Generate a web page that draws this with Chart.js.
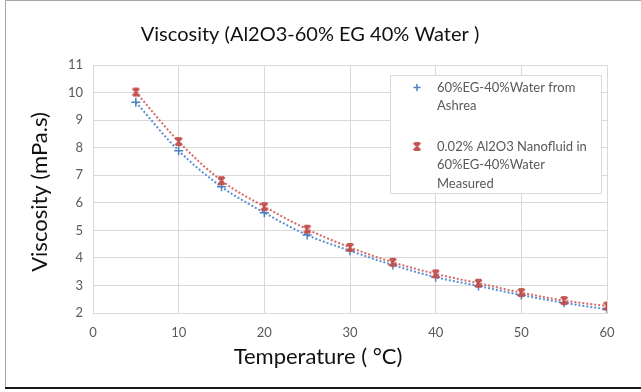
<!DOCTYPE html>
<html>
<head>
<meta charset="utf-8">
<script src="https://cdn.jsdelivr.net/npm/chart.js@4.4.1/dist/chart.umd.min.js"></script>
<style>
html,body{margin:0;padding:0;background:#fff;}
#wrap{width:641px;height:392px;position:relative;}
</style>
</head>
<body>
<div id="wrap"><canvas id="c" width="641" height="392"></canvas></div>
<script>
// ---- data ----
const chartTitle = 'Viscosity (Al2O3-60% EG 40% Water )';
const xTitle = 'Temperature ( °C)';
const yTitle = 'Viscosity (mPa.s)';
const temperatures = [5, 10, 15, 20, 25, 30, 35, 40, 45, 50, 55, 60];
const ashraeViscosity = [9.65, 7.89, 6.58, 5.64, 4.83, 4.26, 3.74, 3.30, 2.98, 2.65, 2.37, 2.13];
const measuredViscosity = [10.02, 8.22, 6.80, 5.86, 5.04, 4.38, 3.84, 3.42, 3.08, 2.74, 2.45, 2.25];
const legendAshrae = ['60%EG-40%Water from', 'Ashrea'];
const legendMeasured = ['0.02% Al2O3 Nanofluid in', '60%EG-40%Water', 'Measured'];
const xMin = 0, xMax = 60, xStep = 10;
const yMin = 2, yMax = 11, yStep = 1;

const BLUE = '#4F81BD', RED = '#C0504D';
const FONT = 'Lato, "Liberation Sans", sans-serif';

function makeStar(color) {
  const c = document.createElement('canvas');
  c.width = 11; c.height = 11;
  const g = c.getContext('2d');
  g.strokeStyle = color; g.lineWidth = 1.7;
  g.beginPath();
  g.moveTo(2, 2); g.lineTo(9, 9);
  g.moveTo(9, 2); g.lineTo(2, 9);
  g.moveTo(5.5, 1); g.lineTo(5.5, 10);
  g.moveTo(3, 1.8); g.lineTo(8, 1.8);
  g.moveTo(3, 9.2); g.lineTo(8, 9.2);
  g.stroke();
  return c;
}
const starImg = makeStar(RED);

function pts(ys) { return temperatures.map((t, i) => ({x: t, y: ys[i]})); }

const framePlugin = {
  id: 'frame',
  beforeDraw(chart) {
    const ctx = chart.ctx;
    ctx.save();
    ctx.fillStyle = '#fff';
    ctx.fillRect(0, 0, chart.width, chart.height);
    ctx.restore();
  },
  afterDraw(chart) {
    const ctx = chart.ctx;
    const a = chart.chartArea;
    ctx.save();
    ctx.strokeStyle = '#A6A6A6';
    ctx.lineWidth = 1;
    ctx.beginPath();
    ctx.moveTo(5.5, 0); ctx.lineTo(5.5, 388);
    ctx.moveTo(5, 0.5); ctx.lineTo(641, 0.5);
    ctx.stroke();
    ctx.strokeStyle = '#1a1a1a';
    ctx.lineWidth = 2;
    ctx.beginPath();
    ctx.moveTo(5, 388); ctx.lineTo(641, 388);
    ctx.stroke();

    // axis titles
    ctx.fillStyle = '#111';
    ctx.font = '22px ' + FONT;
    ctx.textAlign = 'center';
    ctx.textBaseline = 'middle';
    ctx.fillText(xTitle, a.left + 225, a.bottom + 44);
    ctx.save();
    ctx.translate(40, (a.top + a.bottom) / 2 + 3);
    ctx.rotate(-Math.PI / 2);
    ctx.fillText(yTitle, 0, 0);
    ctx.restore();

    // legend
    const bx = a.right - 216.5, by = a.top + 10.5, bw = 211, bh = 118;
    ctx.fillStyle = '#fff';
    ctx.fillRect(bx, by, bw, bh);
    ctx.strokeStyle = '#D9D9D9';
    ctx.lineWidth = 1;
    ctx.strokeRect(bx, by, bw, bh);
    ctx.font = '13px ' + FONT;
    ctx.fillStyle = '#595959';
    ctx.textBaseline = 'middle';
    ctx.textAlign = 'left';
    const tx = bx + 46.5, mx = bx + 26.5;
    let y = by + 12;
    ctx.strokeStyle = BLUE; ctx.lineWidth = 1.5;
    ctx.beginPath();
    ctx.moveTo(mx - 3.5, y); ctx.lineTo(mx + 3.5, y);
    ctx.moveTo(mx, y - 3.5); ctx.lineTo(mx, y + 3.5);
    ctx.stroke();
    legendAshrae.forEach((s, i) => ctx.fillText(s, tx, y + i * 18.5));
    y = by + 71;
    ctx.drawImage(starImg, mx - 5.5, y - 5.5);
    legendMeasured.forEach((s, i) => ctx.fillText(s, tx, y + i * 18.5));
    ctx.restore();
  }
};

new Chart(document.getElementById('c'), {
  type: 'scatter',
  data: {
    datasets: [
      {
        label: legendAshrae.join(' '),
        data: pts(ashraeViscosity),
        showLine: true,
        borderColor: '#5B8FD3',
        borderWidth: 2,
        borderDash: [2, 2],
        cubicInterpolationMode: 'monotone',
        pointStyle: 'cross',
        pointRadius: 4.5,
        pointBorderWidth: 1.5,
        pointBorderColor: BLUE,
        pointBackgroundColor: BLUE,
        order: 2
      },
      {
        label: legendMeasured.join(' '),
        data: pts(measuredViscosity),
        showLine: true,
        borderColor: '#D46A67',
        borderWidth: 2,
        borderDash: [2, 2],
        cubicInterpolationMode: 'monotone',
        pointStyle: starImg,
        pointRadius: 5,
        order: 1
      }
    ]
  },
  options: {
    responsive: false,
    animation: false,
    layout: {padding: {left: 13, right: 34, top: 0, bottom: 0}},
    plugins: {
      legend: {display: false},
      tooltip: {enabled: false},
      title: {
        display: true,
        text: chartTitle,
        color: '#111',
        font: {family: FONT, size: 20, weight: 'normal', lineHeight: 1.2},
        padding: {top: 23, bottom: 18}
      }
    },
    scales: {
      x: {
        type: 'linear',
        min: xMin, max: xMax,
        ticks: {stepSize: xStep, color: '#595959', font: {family: FONT, size: 13}, padding: 12},
        grid: {color: '#D9D9D9', drawTicks: false},
        border: {color: '#D9D9D9'},
        title: {display: false},
        afterFit(s) { s.height = 79; }
      },
      y: {
        type: 'linear',
        min: yMin, max: yMax,
        ticks: {stepSize: yStep, color: '#595959', font: {family: FONT, size: 13}, padding: 10},
        grid: {color: '#D9D9D9', drawTicks: false},
        border: {color: '#D9D9D9'},
        title: {display: false},
        afterFit(s) { s.width = 80; }
      }
    }
  },
  plugins: [framePlugin]
});
</script>
</body>
</html>
